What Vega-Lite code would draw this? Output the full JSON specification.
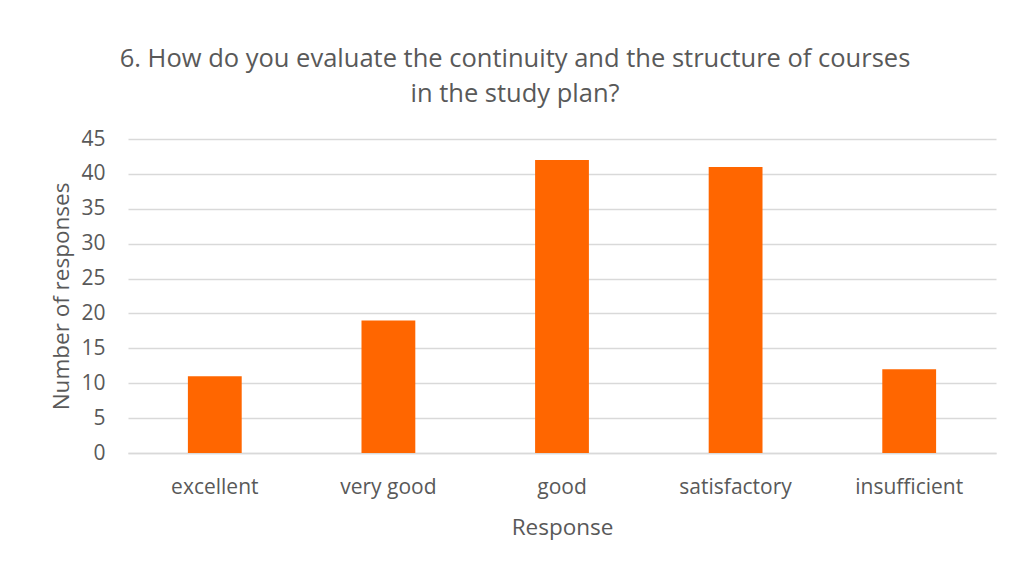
{
  "$schema": "https://vega.github.io/schema/vega-lite/v6.json",
  "autosize": {"type": "none"},
  "width": 868,
  "height": 314,
  "padding": {"left": 128, "top": 139, "right": 18, "bottom": 110},
  "background": "white",
  "title": {
    "text": ["6. How do you evaluate the continuity and the structure of courses", "in the study plan?"],
    "anchor": "middle",
    "dx": -47,
    "offset": 21,
    "font": "Open Sans",
    "fontSize": 25.5,
    "fontWeight": "normal",
    "color": "#595959",
    "lineHeight": 35
  },
  "data": {
    "values": [
      {"response": "excellent", "count": 11},
      {"response": "very good", "count": 19},
      {"response": "good", "count": 42},
      {"response": "satisfactory", "count": 41},
      {"response": "insufficient", "count": 12}
    ]
  },
  "mark": {"type": "bar", "color": "#ff6600"},
  "encoding": {
    "x": {
      "field": "response",
      "type": "nominal",
      "sort": null,
      "scale": {"paddingInner": 0.69, "paddingOuter": 0.345},
      "axis": {
        "title": "Response",
        "labelAngle": 0,
        "ticks": false,
        "domainColor": "#d9d9d9",
        "domainWidth": 1.5,
        "labelPadding": 23,
        "titlePadding": 19
      }
    },
    "y": {
      "field": "count",
      "type": "quantitative",
      "scale": {"domain": [0, 45]},
      "axis": {
        "title": "Number of responses",
        "values": [0, 5, 10, 15, 20, 25, 30, 35, 40, 45],
        "ticks": false,
        "domain": false,
        "gridColor": "#d9d9d9",
        "gridWidth": 1.5,
        "labelPadding": 23,
        "titlePadding": 7
      }
    }
  },
  "config": {
    "view": {"stroke": null},
    "axis": {
      "labelFont": "Open Sans",
      "labelFontSize": 21,
      "labelColor": "#595959",
      "titleFont": "Open Sans",
      "titleFontSize": 22.5,
      "titleFontWeight": "normal",
      "titleColor": "#595959"
    }
  }
}
